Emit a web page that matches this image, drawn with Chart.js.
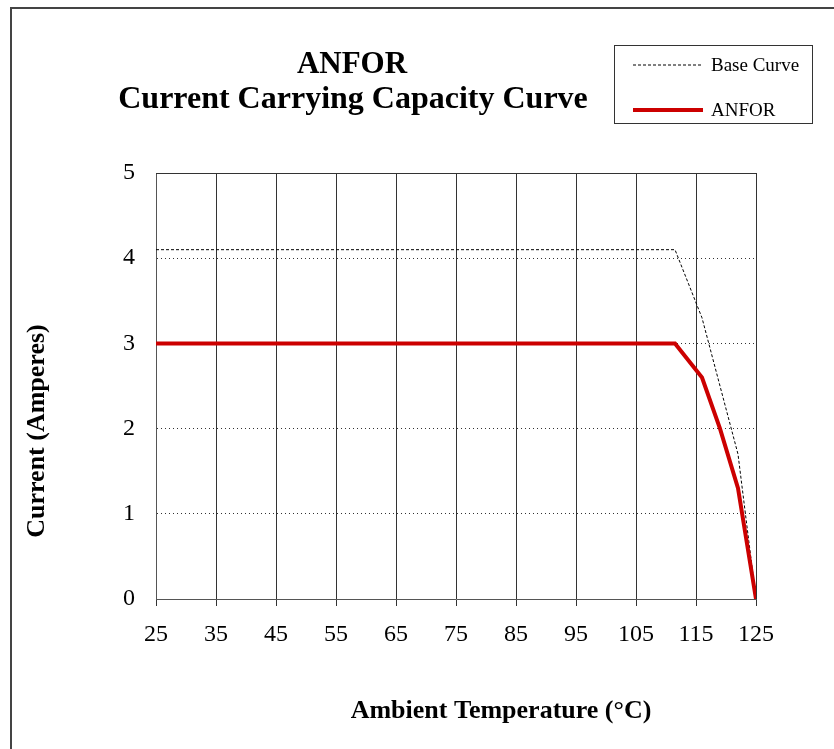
<!DOCTYPE html>
<html>
<head>
<meta charset="utf-8">
<script src="https://cdn.jsdelivr.net/npm/chart.js@4/dist/chart.umd.min.js"></script>
<style>
  html, body { margin: 0; padding: 0; background: #fff; }
  canvas { display: block; }
</style>
</head>
<body>
<canvas id="capchart" width="834" height="749"></canvas>
<script>
// values
const temps = [25, 111.5, 116, 119, 122, 125];
const baseCurve = [4.1, 4.1, 3.3, 2.5, 1.7, 0];
const anforCurve = [3, 3, 2.6, 2.0, 1.3, 0];
const xTicks = [25, 35, 45, 55, 65, 75, 85, 95, 105, 115, 125];
const yTicks = [0, 1, 2, 3, 4, 5];
const titleLines = ['ANFOR', 'Current Carrying Capacity Curve'];

const serif = '"Liberation Serif", "Times New Roman", serif';

function toPoints(ys) {
    return temps.map((t, i) => ({ x: t, y: ys[i] }));
}

// frame, titles, axis titles and boxed legend
const decorations = {
    id: 'decorations',
    beforeDatasetsDraw(chart) {
        const ctx = chart.ctx;
        const a = chart.chartArea;
        ctx.save();
        ctx.strokeStyle = '#333';
        ctx.lineWidth = 1;
        ctx.beginPath();
        ctx.moveTo(a.left, a.top + 0.5);
        ctx.lineTo(a.right, a.top + 0.5);
        ctx.stroke();
        ctx.restore();
    },
    afterDraw(chart) {
        const ctx = chart.ctx;
        ctx.save();

        // outer frame (only top and left edges are inside the picture)
        ctx.strokeStyle = '#444';
        ctx.lineWidth = 2;
        ctx.beginPath();
        ctx.moveTo(11, 749);
        ctx.lineTo(11, 8);
        ctx.lineTo(834, 8);
        ctx.stroke();

        ctx.fillStyle = '#000';
        ctx.textAlign = 'center';
        ctx.textBaseline = 'alphabetic';
        ctx.font = 'bold 31px ' + serif;
        ctx.fillText(titleLines[0], 352, 73);
        ctx.font = 'bold 32px ' + serif;
        ctx.fillText(titleLines[1], 353, 108);

        ctx.font = 'bold 26px ' + serif;
        ctx.textBaseline = 'middle';
        ctx.fillText('Ambient Temperature (°C)', 501, 711);
        ctx.save();
        ctx.translate(37, 431);
        ctx.rotate(-Math.PI / 2);
        ctx.fillText('Current (Amperes)', 0, 0);
        ctx.restore();

        // legend box
        ctx.strokeStyle = '#333';
        ctx.lineWidth = 1;
        ctx.strokeRect(614.5, 45.5, 198, 78);
        const rows = [chart.data.datasets[1], chart.data.datasets[0]];
        const rowY = [65, 110];
        ctx.font = '19px ' + serif;
        ctx.textAlign = 'left';
        ctx.textBaseline = 'alphabetic';
        rows.forEach((ds, i) => {
            ctx.save();
            ctx.strokeStyle = ds.borderColor;
            ctx.lineWidth = ds.borderWidth;
            ctx.setLineDash(ds.borderDash || []);
            ctx.beginPath();
            ctx.moveTo(633, rowY[i]);
            ctx.lineTo(703, rowY[i]);
            ctx.stroke();
            ctx.restore();
            ctx.fillStyle = '#000';
            ctx.fillText(ds.label, 711, rowY[i] + 6);
        });
        ctx.restore();
    }
};

const ctx = document.getElementById('capchart').getContext('2d');
new Chart(ctx, {
    type: 'line',
    data: {
        datasets: [{
            label: 'ANFOR',
            data: toPoints(anforCurve),
            borderColor: '#cc0000',
            borderWidth: 4,
            pointRadius: 0,
            tension: 0,
            order: 0
        }, {
            label: 'Base Curve',
            data: toPoints(baseCurve),
            borderColor: '#000',
            borderWidth: 1,
            borderDash: [3, 2],
            pointRadius: 0,
            tension: 0,
            order: 1
        }]
    },
    options: {
        responsive: false,
        animation: false,
        layout: { padding: { left: 0, right: 78, top: 173, bottom: 0 } },
        plugins: {
            legend: { display: false },
            title: { display: false },
            tooltip: { enabled: false }
        },
        scales: {
            x: {
                type: 'linear',
                min: 25,
                max: 125,
                afterBuildTicks: s => { s.ticks = xTicks.map(v => ({ value: v })); },
                afterFit: s => { s.height = 150; },
                grid: { color: '#333', lineWidth: 1, drawTicks: true, tickLength: 7, tickColor: '#333' },
                border: { color: '#555', width: 1 },
                ticks: {
                    color: '#000',
                    padding: 14,
                    maxRotation: 0,
                    autoSkip: false,
                    font: { family: serif, size: 24 }
                }
            },
            y: {
                min: 0,
                max: 5,
                afterBuildTicks: s => { s.ticks = yTicks.map(v => ({ value: v })); },
                afterFit: s => { s.width = 156; },
                grid: {
                    color: c => (c.tick && c.tick.value > 0 && c.tick.value < 5) ? '#333' : 'rgba(0,0,0,0)',
                    lineWidth: 1,
                    drawTicks: false
                },
                border: { color: '#555', width: 1, dash: [1, 3] },
                ticks: {
                    color: '#000',
                    padding: 21,
                    font: { family: serif, size: 24 }
                }
            }
        }
    },
    plugins: [decorations]
});
</script>
</body>
</html>
